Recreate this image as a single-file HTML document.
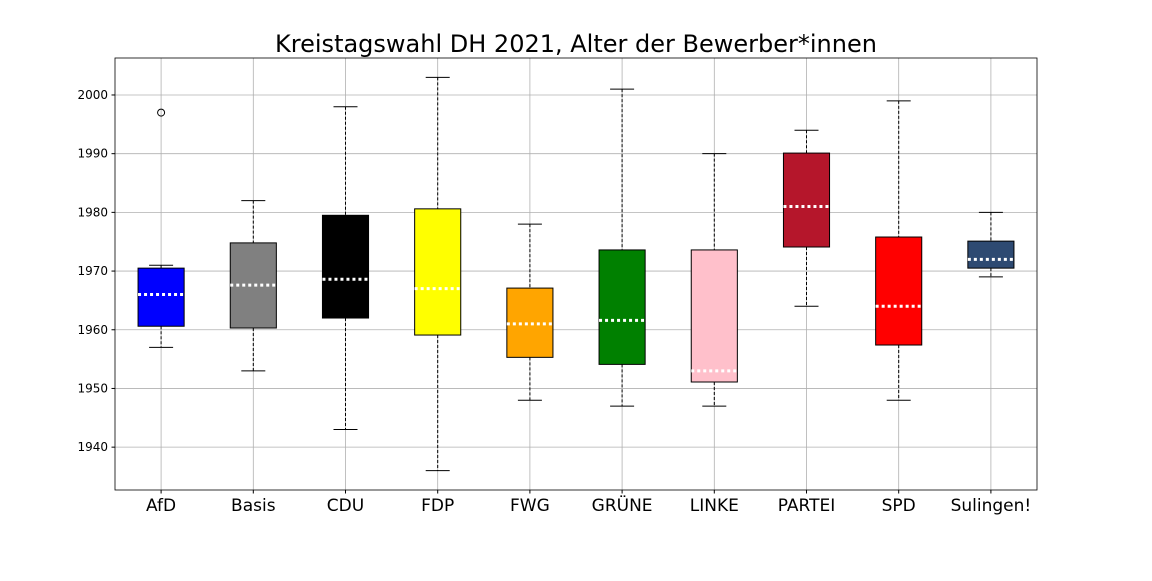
<!DOCTYPE html>
<html><head><meta charset="utf-8"><style>
body{margin:0;background:#fff;width:1152px;height:576px;overflow:hidden;font-family:"Liberation Sans","DejaVu Sans",sans-serif}
</style></head><body>
<svg id="chart" width="1152" height="576" xmlns="http://www.w3.org/2000/svg">
<text x="576" y="52" text-anchor="middle" font-size="24" font-family="DejaVu Sans, Liberation Sans, sans-serif">Kreistagswahl DH 2021, Alter der Bewerber*innen</text>
<g id="grid"></g><g id="boxes"></g><g id="axes"></g>
</svg>
<script>
const categories=["AfD","Basis","CDU","FDP","FWG","GRÜNE","LINKE","PARTEI","SPD","Sulingen!"];
const colors=["#0000ff","#808080","#000000","#ffff00","#ffa500","#008000","#ffc0cb","#b5162b","#ff0000","#2e4a72"];
const whiskerHigh=[1971,1982,1998,2003,1978,2001,1990,1994,1999,1980];
const q3=[1970.5,1974.8,1979.5,1980.6,1967.1,1973.6,1973.6,1990.1,1975.8,1975.1];
const medians=[1966,1967.6,1968.6,1967,1961,1961.6,1953,1981,1964,1972];
const q1=[1960.6,1960.3,1962,1959.1,1955.3,1954.1,1951.1,1974.1,1957.4,1970.5];
const whiskerLow=[1957,1953,1943,1936,1948,1947,1947,1964,1948,1969];
const fliers=[[0,1997]];
const yTicks=[1940,1950,1960,1970,1980,1990,2000];
const L=115,R=1037,T=58,B=490,yMin=1932.7,yMax=2006.3;
const NS="http://www.w3.org/2000/svg";
const step=(R-L)/categories.length;
const xs=i=>L+(i+0.5)*step;
const ys=v=>B-(v-yMin)/(yMax-yMin)*(B-T);
function mk(tag,attrs,parent){const e=document.createElementNS(NS,tag);for(const k in attrs)e.setAttribute(k,attrs[k]);document.getElementById(parent).appendChild(e);return e;}
yTicks.forEach(t=>{
 const g=mk("line",{x1:L,x2:R,y1:ys(t),y2:ys(t),stroke:"#b0b0b0","stroke-width":0.8},"grid");
 
 
 const tk=mk("line",{x1:L-3.5,x2:L,y1:ys(t),y2:ys(t),stroke:"#000"},"axes");
 
 
 const tx=mk("text",{x:L-7,y:ys(t)+4,"text-anchor":"end","font-size":12,"font-family":"DejaVu Sans, Liberation Sans, sans-serif"},"axes");
 tx.textContent=t;
 
 
});
categories.forEach((c,i)=>{
 const x=xs(i),hw=step*0.25;
 const g=mk("line",{x1:x,x2:x,y1:T,y2:B,stroke:"#b0b0b0","stroke-width":0.8},"grid");
 
 
 const w1=mk("line",{x1:x,x2:x,y1:ys(whiskerHigh[i]),y2:ys(q3[i]),stroke:"#000","stroke-dasharray":"3,2"},"boxes");
 
 
 const w2=mk("line",{x1:x,x2:x,y1:ys(q1[i]),y2:ys(whiskerLow[i]),stroke:"#000","stroke-dasharray":"3,2"},"boxes");
 
 
 [whiskerHigh[i],whiskerLow[i]].forEach(v=>{
  const cp=mk("line",{x1:x-12,x2:x+12,y1:ys(v),y2:ys(v),stroke:"#000"},"boxes");
  
  
 });
 const b=mk("rect",{x:x-hw,y:ys(q3[i]),width:2*hw,height:ys(q1[i])-ys(q3[i]),fill:colors[i],stroke:"#000"},"boxes");
 
 
 const m=mk("line",{x1:x-hw,x2:x+hw,y1:ys(medians[i]),y2:ys(medians[i]),stroke:"#fff","stroke-width":3,"stroke-dasharray":"3,3"},"boxes");
 
 
 const tk=mk("line",{x1:x,x2:x,y1:B,y2:B+3.5,stroke:"#000"},"axes");
 
 
 const tx=mk("text",{x:x,y:B+21,"text-anchor":"middle","font-size":17,"font-family":"DejaVu Sans, Liberation Sans, sans-serif"},"axes");
 tx.textContent=c;
 
 
});
fliers.forEach(f=>{
 const o=mk("circle",{cx:xs(f[0]),cy:ys(f[1]),r:3.5,fill:"none",stroke:"#000"},"boxes");
 
 
});
const fr=mk("rect",{x:L,y:T,width:R-L,height:B-T,fill:"none",stroke:"#000","stroke-width":0.8},"axes");


</script>
</body></html>
